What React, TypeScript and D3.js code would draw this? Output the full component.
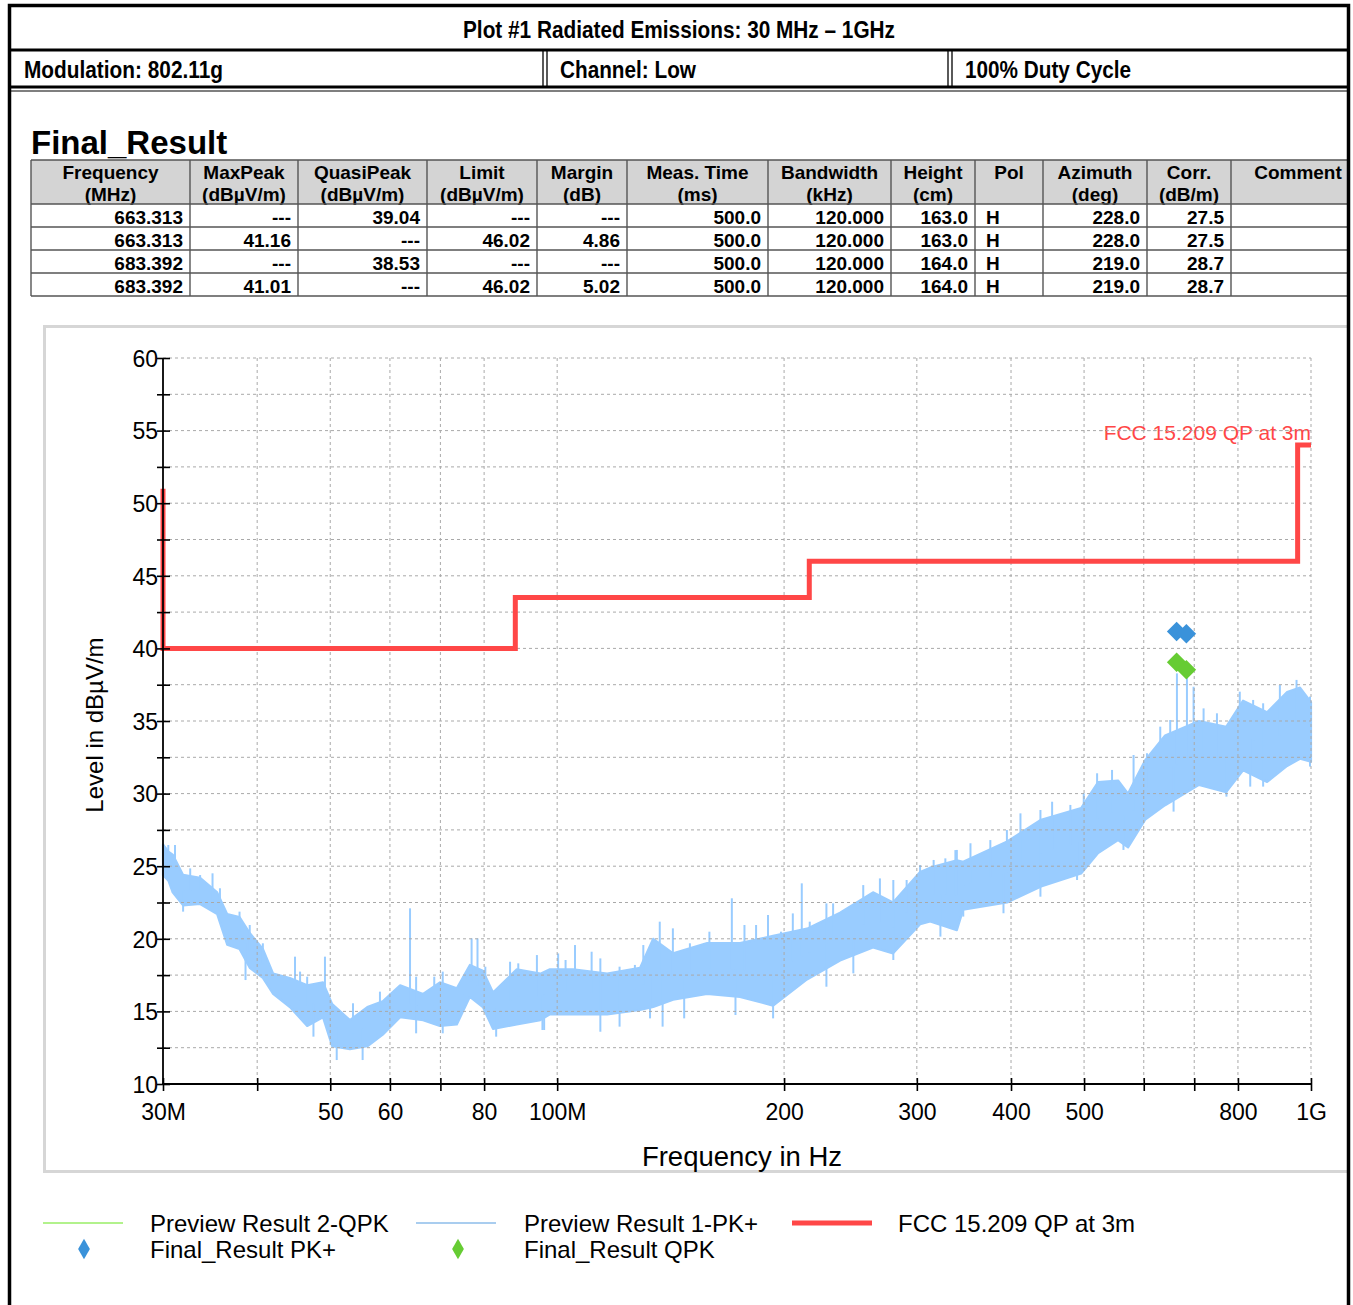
import { useEffect, useRef } from 'react'
import * as d3 from 'd3'

const W = 1353
const H = 1305
const SANS = "'Liberation Sans', Arial, sans-serif"
const NARROW = "'Liberation Sans Narrow', 'Arial Narrow', 'Liberation Sans', Arial, sans-serif"

// ---- header ----
const plotTitle = 'Plot #1 Radiated Emissions: 30 MHz – 1GHz'
const infoCells = ['Modulation: 802.11g', 'Channel: Low', '100% Duty Cycle']

// ---- Final_Result table ----
const columnHeads = [
  ['Frequency', '(MHz)'], ['MaxPeak', '(dBµV/m)'], ['QuasiPeak', '(dBµV/m)'],
  ['Limit', '(dBµV/m)'], ['Margin', '(dB)'], ['Meas. Time', '(ms)'],
  ['Bandwidth', '(kHz)'], ['Height', '(cm)'], ['Pol', ''], ['Azimuth', '(deg)'],
  ['Corr.', '(dB/m)'], ['Comment', ''],
]
const freqCol = ['663.313', '663.313', '683.392', '683.392']
const maxPeakCol = ['---', '41.16', '---', '41.01']
const quasiPeakCol = ['39.04', '---', '38.53', '---']
const limitCol = ['---', '46.02', '---', '46.02']
const marginCol = ['---', '4.86', '---', '5.02']
const measTimeCol = ['500.0', '500.0', '500.0', '500.0']
const bandwidthCol = ['120.000', '120.000', '120.000', '120.000']
const heightCol = ['163.0', '163.0', '164.0', '164.0']
const polCol = ['H', 'H', 'H', 'H']
const azimuthCol = ['228.0', '228.0', '219.0', '219.0']
const corrCol = ['27.5', '27.5', '28.7', '28.7']
const commentCol = ['', '', '', '']

// ---- chart ----
const xTicks = [30, 40, 50, 60, 70, 80, 100, 200, 300, 400, 500, 600, 700, 800, 1000]
const xTickLabels: Record<number, string> = {
  30: '30M', 50: '50', 60: '60', 80: '80', 100: '100M', 200: '200',
  300: '300', 400: '400', 500: '500', 800: '800', 1000: '1G',
}
const yTicks = [10, 12.5, 15, 17.5, 20, 22.5, 25, 27.5, 30, 32.5, 35, 37.5, 40, 42.5, 45, 47.5, 50, 52.5, 55, 57.5, 60]

// limit line FCC 15.209 QP at 3m (MHz, dBµV/m)
const limitFreq = [30, 30, 88, 216, 960, 1000]
const limitLevel = [51, 40, 43.5, 46, 54, 54]

// preview PK+ trace, read as low/high envelope (MHz, dBµV/m)
const traceFreq = [30, 30.5, 30.9, 31.9, 33.6, 35.4, 36.5, 37.9, 39.1, 40.7, 42, 44.2, 46.6, 48.9, 50.3, 53.1, 56, 58.7, 61.9, 66.4, 69.9, 73.6, 76.6, 79.7, 82.2, 88.4, 95, 97.8, 105, 116.5, 128.8, 134.1, 142.5, 158.1, 174.8, 193.4, 214.5, 237.3, 262.4, 279, 303, 312.5, 339, 345.6, 395.3, 438.5, 495.5, 521.9, 554.7, 571.9, 602.6, 640.4, 710.4, 771.7, 812.6, 874.4, 929.6, 967, 1000]
const traceLow = [24.4, 24.0, 23.2, 22.3, 22.4, 21.7, 19.6, 19.3, 18.0, 17.3, 16.2, 15.3, 14.0, 14.6, 12.6, 12.4, 12.6, 13.4, 14.6, 14.4, 14.0, 14.1, 16.0, 15.3, 13.8, 14.1, 14.4, 14.8, 14.8, 14.8, 15.1, 15.3, 15.8, 16.2, 16.0, 15.4, 17.2, 18.5, 19.4, 19.0, 21.0, 21.2, 20.6, 22.0, 22.5, 23.6, 24.5, 25.9, 26.8, 26.3, 28.2, 29.2, 30.6, 30.1, 31.6, 30.8, 31.9, 32.4, 32.2]
const traceHigh = [26.5, 26.0, 25.8, 24.4, 24.2, 23.2, 21.7, 21.5, 20.4, 19.3, 17.6, 17.3, 16.8, 17.0, 15.5, 14.4, 15.3, 15.7, 16.8, 16.2, 17.0, 16.6, 18.2, 17.8, 16.3, 17.9, 17.6, 17.9, 17.9, 17.6, 18.0, 20.0, 19.0, 19.7, 19.7, 20.2, 20.7, 21.8, 23.2, 22.5, 24.6, 24.9, 25.4, 25.3, 26.7, 28.2, 29.0, 30.8, 30.9, 30.0, 32.3, 34.0, 35.0, 34.6, 36.4, 35.6, 37.0, 37.3, 36.3]

// hairs of the trace reaching above the envelope
const hairUpFreq = [30.49, 31.12, 32.6, 33.6, 34.9, 35.7, 37.9, 39.1, 40.7, 44.9, 45.6, 46.6, 49.2, 53.6, 58.2, 60.0, 63.8, 65.0, 68.7, 70.5, 75.0, 77.0, 78.4, 80.3, 86.6, 88.8, 94.0, 100.3, 102.6, 105.6, 111.1, 114.1, 121.0, 126.8, 130.1, 136.8, 142.4, 150.0, 159.2, 170.5, 177.2, 183.6, 190.4, 198.1, 205.4, 211.1, 216.3, 227.6, 232.3, 254.7, 268.0, 279.2, 290.8, 303.0, 315.8, 327.3, 337.5, 339.0, 353.4, 375.5, 395.0, 411.7, 437.6, 453.5, 479.5, 499.5, 520.3, 544.6, 581.6, 605.9, 631.0, 650.5, 664.0, 684.6, 698.6, 720.3, 750.3, 804.5, 838.0, 864.0, 909.3, 956.8, 997.0]
const hairUpLevel = [26.46, 26.46, 24.85, 24.39, 24.51, 23.48, 21.87, 20.95, 19.69, 18.77, 17.74, 17.39, 18.77, 15.56, 16.36, 16.24, 22.1, 17.39, 17.39, 17.74, 17.39, 20.03, 20.03, 18.08, 18.42, 18.31, 18.88, 18.99, 18.54, 19.57, 19.11, 18.65, 18.08, 18.2, 19.57, 21.18, 20.72, 19.69, 20.49, 22.79, 20.95, 20.95, 21.64, 20.49, 21.75, 23.82, 21.18, 22.44, 22.44, 23.7, 24.16, 24.05, 24.05, 25.08, 25.43, 25.54, 26.11, 26.12, 26.58, 26.8, 27.49, 28.64, 28.87, 29.44, 29.22, 30.02, 31.4, 31.63, 32.66, 32.78, 34.61, 35.07, 38.28, 38.05, 37.36, 35.87, 35.53, 37.02, 36.45, 36.22, 37.48, 37.83, 36.68]
// hairs of the trace reaching below the envelope
const hairDownFreq = [31.9, 38.6, 47.5, 51.0, 55.2, 65.0, 70.5, 83.0, 95.6, 96.1, 114.1, 121.0, 132.8, 138.0, 147.4, 172.4, 193.4, 227.6, 247.1, 279.2, 322.4, 345.7, 390.9, 437.6, 489.4, 563.9, 657.2, 698.6, 772.4, 830.6, 864.0, 997.0]
const hairDownLevel = [21.87, 17.16, 13.26, 11.65, 11.65, 13.49, 13.49, 13.26, 13.72, 13.72, 13.6, 13.95, 14.52, 13.95, 14.52, 14.75, 14.52, 16.7, 17.62, 18.54, 20.15, 21.53, 21.76, 22.9, 24.05, 26.12, 28.76, 30.48, 29.79, 30.48, 30.48, 31.86]

// final results
const pkFreq = [663.313, 683.392]
const pkLevel = [41.16, 41.01]
const qpkFreq = [663.313, 683.392]
const qpkLevel = [39.04, 38.53]

const legendRow1 = ['Preview Result 2-QPK', 'Preview Result 1-PK+', 'FCC 15.209 QP at 3m']
const legendRow2 = ['Final_Result PK+', 'Final_Result QPK']

const TRACE = '#99ccff'
const RED = '#ff4747'
const BLUE = '#3a92da'
const GREEN = '#66cc33'

export default function App() {
  const svgRef = useRef<SVGSVGElement>(null)

  useEffect(() => {
    if (!svgRef.current) return
    const svg = d3.select(svgRef.current)
    svg.selectAll('*').remove()

    svg.append('rect').attr('width', W).attr('height', H).attr('fill', '#fff')

    // ---------- header texts ----------
    svg.append('text')
      .attr('x', 679).attr('y', 38).attr('text-anchor', 'middle')
      .attr('font-family', NARROW).attr('font-weight', 'bold').attr('font-size', 24)
      .attr('textLength', 432).attr('lengthAdjust', 'spacingAndGlyphs')
      .text(plotTitle)

    const infoX = [24, 560, 965]
    const infoLen = [199, 136, 166]
    infoCells.forEach((t, i) => {
      svg.append('text')
        .attr('x', infoX[i]).attr('y', 78)
        .attr('font-family', NARROW).attr('font-weight', 'bold').attr('font-size', 24)
        .attr('textLength', infoLen[i]).attr('lengthAdjust', 'spacingAndGlyphs')
        .text(t)
    })

    // ---------- Final_Result table ----------
    svg.append('text')
      .attr('x', 31).attr('y', 154)
      .attr('font-family', SANS).attr('font-weight', 'bold').attr('font-size', 33)
      .text('Final_Result')

    // last column runs under the page border
    const colEdges = [31, 190, 298, 427, 537, 627, 768, 891, 975, 1043, 1147, 1231, 1365]
    const headTop = 160
    const headBottom = 204
    const rowH = 23
    const rows = [freqCol, maxPeakCol, quasiPeakCol, limitCol, marginCol, measTimeCol, bandwidthCol, heightCol, polCol, azimuthCol, corrCol, commentCol]
    const nRows = freqCol.length
    const tableBottom = headBottom + nRows * rowH

    const table = svg.append('g').attr('font-family', SANS).attr('font-weight', 'bold').attr('font-size', 19)
    table.append('rect')
      .attr('x', colEdges[0]).attr('y', headTop)
      .attr('width', colEdges[colEdges.length - 1] - colEdges[0]).attr('height', headBottom - headTop)
      .attr('fill', '#d4d4d4')

    columnHeads.forEach((hd, c) => {
      const cx = (colEdges[c] + colEdges[c + 1]) / 2
      hd.forEach((line, k) => {
        if (!line) return
        table.append('text').attr('x', cx).attr('y', headTop + 19 + k * 22)
          .attr('text-anchor', 'middle').text(line)
      })
      rows[c].forEach((v, r) => {
        const base = headBottom + r * rowH + 20
        if (c === 8) {
          table.append('text').attr('x', colEdges[c] + 11).attr('y', base).text(v)
        } else {
          table.append('text').attr('x', colEdges[c + 1] - 7).attr('y', base)
            .attr('text-anchor', 'end').text(v)
        }
      })
    })

    const grid = table.append('g').attr('stroke', '#555').attr('stroke-width', 1.4)
    colEdges.forEach(xv => {
      grid.append('line').attr('x1', xv).attr('x2', xv).attr('y1', headTop).attr('y2', tableBottom)
    })
    d3.range(nRows + 2).forEach(i => {
      const yv = i === 0 ? headTop : headBottom + (i - 1) * rowH
      grid.append('line').attr('x1', colEdges[0]).attr('x2', colEdges[colEdges.length - 1]).attr('y1', yv).attr('y2', yv)
    })

    // ---------- chart panel ----------
    svg.append('rect')
      .attr('x', 44.5).attr('y', 326.5).attr('width', 1320).attr('height', 845)
      .attr('fill', '#fff').attr('stroke', '#d6d6d6').attr('stroke-width', 3)

    const x = d3.scaleLog().domain([30, 1000]).range([163, 1311])
    const y = d3.scaleLinear().domain([10, 60]).range([1084, 358])

    // trace envelope
    const band = traceFreq.map((f, i) => ({ f, lo: traceLow[i], hi: traceHigh[i] }))
    const area = d3.area<{ f: number; lo: number; hi: number }>()
      .x(d => x(d.f)).y0(d => y(d.lo)).y1(d => y(d.hi))
    svg.append('path').datum(band)
      .attr('d', area).attr('fill', TRACE).attr('stroke', TRACE)
      .attr('stroke-width', 2.2).attr('stroke-linejoin', 'round')

    // middle of the envelope, used only to anchor the hairs
    const mid = d3.scaleLog().domain(traceFreq).range(traceFreq.map((_, i) => (traceLow[i] + traceHigh[i]) / 2))
    const hairs = svg.append('g').attr('stroke', TRACE).attr('stroke-width', 2)
    hairUpFreq.forEach((f, i) => {
      hairs.append('line')
        .attr('x1', x(f)).attr('x2', x(f))
        .attr('y1', y(hairUpLevel[i])).attr('y2', y(mid(f)))
    })
    hairDownFreq.forEach((f, i) => {
      hairs.append('line')
        .attr('x1', x(f)).attr('x2', x(f))
        .attr('y1', y(hairDownLevel[i])).attr('y2', y(mid(f)))
    })

    // grid
    const gridG = svg.append('g').attr('stroke', '#a9a9a9').attr('stroke-width', 1).attr('stroke-dasharray', '3,3')
    yTicks.filter(v => v > 10).forEach(v => {
      gridG.append('line').attr('x1', 163).attr('x2', 1311).attr('y1', y(v)).attr('y2', y(v))
    })
    xTicks.filter(v => v > 30).forEach(v => {
      gridG.append('line').attr('x1', x(v)).attr('x2', x(v)).attr('y1', 358).attr('y2', 1084)
    })

    // limit label, crossed by the 55 dB grid line as in the original
    svg.append('text')
      .attr('x', 1311).attr('y', 440).attr('text-anchor', 'end')
      .attr('font-family', SANS).attr('font-size', 21).attr('fill', RED)
      .text('FCC 15.209 QP at 3m')
    svg.append('line').attr('x1', 1100).attr('x2', 1311).attr('y1', y(55)).attr('y2', y(55))
      .attr('stroke', '#a9a9a9').attr('stroke-dasharray', '3,3').attr('stroke-opacity', 0.8)

    // limit line
    const limitLine = d3.line<number>()
      .x((_, i) => x(limitFreq[i])).y(d => d)
      .curve(d3.curveStepAfter)
    svg.append('path').datum(limitLevel.map(v => y(v)))
      .attr('d', limitLine).attr('fill', 'none')
      .attr('stroke', RED).attr('stroke-width', 5)

    // final result markers
    const sq = d3.symbol().type(d3.symbolSquare).size(190)
    qpkFreq.forEach((f, i) => {
      svg.append('path').attr('d', sq()!)
        .attr('transform', `translate(${x(f)},${y(qpkLevel[i])}) rotate(45)`)
        .attr('fill', GREEN)
    })
    pkFreq.forEach((f, i) => {
      svg.append('path').attr('d', sq()!)
        .attr('transform', `translate(${x(f)},${y(pkLevel[i])}) rotate(45)`)
        .attr('fill', BLUE)
    })

    // axes
    const xAxis = svg.append('g')
      .attr('transform', 'translate(0,1078)')
      .call(d3.axisBottom(x).tickValues(xTicks).tickFormat(v => xTickLabels[v as number] ?? '').tickSize(13).tickPadding(13))
    const yAxis = svg.append('g')
      .attr('transform', 'translate(170,0)')
      .call(d3.axisLeft(y).tickValues(yTicks).tickFormat(v => ((v as number) % 5 === 0 ? String(v) : '')).tickSize(13).tickPadding(-1))
    ;[xAxis, yAxis].forEach(a => {
      a.select('.domain').remove()
      a.selectAll('.tick line').attr('stroke', '#000').attr('stroke-width', 1.6)
      a.selectAll('text').attr('fill', '#000').attr('font-family', SANS).attr('font-size', 23)
    })
    yAxis.selectAll('text').attr('dy', '0.36em')
    svg.append('line').attr('x1', 163).attr('x2', 163).attr('y1', 358).attr('y2', 1085).attr('stroke', '#000').attr('stroke-width', 1.8)
    svg.append('line').attr('x1', 162).attr('x2', 1312).attr('y1', 1084).attr('y2', 1084).attr('stroke', '#000').attr('stroke-width', 1.8)

    svg.append('text')
      .attr('x', 742).attr('y', 1166).attr('text-anchor', 'middle')
      .attr('font-family', SANS).attr('font-size', 27.5).text('Frequency in Hz')
    svg.append('text')
      .attr('transform', 'translate(103,725) rotate(-90)').attr('text-anchor', 'middle')
      .attr('font-family', SANS).attr('font-size', 24).text('Level in dBµV/m')

    // ---------- legend ----------
    const leg = svg.append('g').attr('font-family', SANS).attr('font-size', 24)
    const lineX = [43, 416, 792]
    const lineColors = ['#99ee66', '#a9cdef', RED]
    const lineWidths = [1.5, 2, 5]
    const textX = [150, 524, 898]
    legendRow1.forEach((t, i) => {
      leg.append('line').attr('x1', lineX[i]).attr('x2', lineX[i] + 80)
        .attr('y1', 1223).attr('y2', 1223)
        .attr('stroke', lineColors[i]).attr('stroke-width', lineWidths[i])
      leg.append('text').attr('x', textX[i]).attr('y', 1232).text(t)
    })
    const dia = d3.symbol().type(d3.symbolDiamond).size(120)
    const diaX = [84, 458]
    const diaColors = [BLUE, GREEN]
    legendRow2.forEach((t, i) => {
      leg.append('path').attr('d', dia()!).attr('transform', `translate(${diaX[i]},1249)`).attr('fill', diaColors[i])
      leg.append('text').attr('x', textX[i]).attr('y', 1258).text(t)
    })

    // ---------- page frame (drawn last, on top) ----------
    svg.append('rect').attr('x', 1350).attr('y', 0).attr('width', 3).attr('height', H).attr('fill', '#fff')
    const frame = svg.append('g').attr('fill', 'none').attr('stroke', '#000')
    frame.append('rect').attr('x', 9.5).attr('y', 5.5).attr('width', 1339).attr('height', 1340).attr('stroke-width', 3.5)
    frame.append('line').attr('x1', 9).attr('x2', 1349).attr('y1', 50).attr('y2', 50).attr('stroke-width', 3)
    frame.append('line').attr('x1', 9).attr('x2', 1349).attr('y1', 87).attr('y2', 87).attr('stroke-width', 3)
    frame.append('line').attr('x1', 9).attr('x2', 1349).attr('y1', 91).attr('y2', 91).attr('stroke-width', 1.2)
    ;[543, 547, 948, 952].forEach(xv => {
      frame.append('line').attr('x1', xv).attr('x2', xv).attr('y1', 51).attr('y2', 86).attr('stroke-width', 1.3)
    })
  }, [])

  return (
    <svg
      ref={svgRef}
      width={W}
      height={H}
      style={{ position: 'absolute', left: 0, top: 0, display: 'block' }}
    />
  )
}
